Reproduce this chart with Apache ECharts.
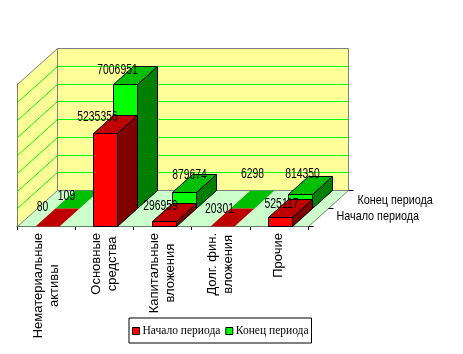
<!DOCTYPE html>
<html>
<head>
<meta charset="utf-8">
<style>html,body{margin:0;padding:0;background:#fff}</style>
<script src="https://cdn.jsdelivr.net/npm/echarts@6/dist/echarts.min.js"></script>
</head>
<body>
<div id="main" style="width:463px;height:354px"></div>
<script>
var categories = ['Нематериальные\nактивы', 'Основные\nсредства', 'Капитальные\nвложения', 'Долг. фин.\nвложения', 'Прочие']
var seriesNames = ['Начало периода', 'Конец периода']
var startValues = [80, 5235356, 296959, 20301, 525117]
var endValues = [109, 7006951, 879674, 6298, 814350]
var valueTicks = [0, 1000000, 2000000, 3000000, 4000000, 5000000, 6000000, 7000000, 8000000]

// 3d look: every row of bars is shifted by this much
var ROW_DX = 20
var ROW_DY = -18
var ROWS = 2
var SANS = '"Liberation Sans", Arial, sans-serif'

// label nudges relative to the bar's front left corner, per row
var nudge = [
  [[7, -1], [4, 2], [8, 3], [9, 1], [13, 5]],
  [[11, 6], [4, 4], [17, 1], [22, -16], [14, -2]]
]

function snap (v) {
  return Math.round(v) + 0.5
}

function poly (points, fill, stroke, z2) {
  return {
    type: 'polygon',
    z2: z2 || 1,
    shape: { points: points },
    style: { fill: fill, stroke: stroke || 'none', lineWidth: 1 }
  }
}

function line (a, b, color) {
  return {
    type: 'line',
    z2: 2,
    shape: { x1: a[0], y1: a[1], x2: b[0], y2: b[1] },
    style: { stroke: color, lineWidth: 1 }
  }
}

// the reference text is tall and narrow, so squeeze it sideways
function squeezedText (text, x, y, size, squeeze, align) {
  return {
    type: 'text',
    z2: 50,
    x: x,
    y: y,
    scaleX: squeeze,
    style: {
      text: text,
      x: 0,
      y: 0,
      fill: '#000',
      font: size + 'px ' + SANS,
      align: align,
      verticalAlign: 'middle'
    }
  }
}

function renderWalls (params, api) {
  var g = params.coordSys
  var dx = ROW_DX * ROWS
  var dy = ROW_DY * ROWS
  var left = snap(g.x)
  var right = snap(g.x + g.width)
  var bottom = snap(g.y + g.height)
  var top = snap(api.coord([0, valueTicks[valueTicks.length - 1]])[1])
  var grey = '#808080'
  var kids = [
    poly([[left, bottom], [left + dx, bottom + dy], [left + dx, top + dy], [left, top]], '#FFFF99'),
    poly([[left + dx, bottom + dy], [right + dx, bottom + dy], [right + dx, top + dy], [left + dx, top + dy]], '#FFFF99'),
    poly([[left, bottom], [right, bottom], [right + dx, bottom + dy], [left + dx, bottom + dy]], '#CCFFCC')
  ]
  valueTicks.slice(1, -1).forEach(function (t) {
    var y = snap(api.coord([0, t])[1])
    kids.push(line([left, y], [left + dx, y + dy], '#00FF00'))
    kids.push(line([left + dx, y + dy], [right + dx, y + dy], '#00FF00'))
  })
  kids.push(line([left, top], [left + dx, top + dy], grey))
  kids.push(line([left + dx, top + dy], [right + dx, top + dy], grey))
  kids.push(line([right + dx, top + dy], [right + dx, bottom + dy], grey))
  kids.push(line([left + dx, top + dy], [left + dx, bottom + dy], grey))
  kids.push(line([left + dx, bottom + dy], [right + dx, bottom + dy], grey))
  kids.push(line([left, bottom], [left + dx, bottom + dy], grey))
  kids.push(line([right, bottom], [right + dx, bottom + dy], grey))
  // depth axis ticks and names
  for (var r = 0; r <= ROWS; r++) {
    var px = right + r * ROW_DX
    var py = bottom + r * ROW_DY
    kids.push(line([px, py], [px + 5, py], '#000'))
    if (r < ROWS) {
      kids.push(squeezedText(seriesNames[r], px + 28 + r, py - 10 + r * 2, 13, 0.83, 'left'))
    }
  }
  return { type: 'group', children: kids }
}

function barRenderer (row, colors) {
  return function (params, api) {
    var i = api.value(0)
    var v = api.value(1)
    var base = api.coord([i, 0])
    var tip = api.coord([i, v])
    var ox = row * ROW_DX
    var oy = row * ROW_DY
    var x0 = snap(base[0] - 11 + ox)
    var x1 = x0 + 24
    var y0 = snap(base[1] + oy)
    var y1 = snap(tip[1] + oy)
    var flat = y0 - y1 < 1
    var edge = flat ? null : '#000'
    var kids = []
    if (!flat) {
      kids.push(poly([[x0, y0], [x1, y0], [x1, y1], [x0, y1]], colors[0], edge))
      kids.push(poly([[x1, y0], [x1 + ROW_DX, y0 + ROW_DY], [x1 + ROW_DX, y1 + ROW_DY], [x1, y1]], colors[2], edge))
    }
    kids.push(poly([[x0, y1], [x1, y1], [x1 + ROW_DX, y1 + ROW_DY], [x0 + ROW_DX, y1 + ROW_DY]], colors[1], edge))
    var n = nudge[row][i]
    kids.push(squeezedText(String(v), x0 + n[0], y1 + ROW_DY + n[1], 14, 0.74, 'center'))
    return { type: 'group', children: kids }
  }
}

function rows (values) {
  return values.map(function (v, i) { return [i, v] })
}

var chart = echarts.init(document.getElementById('main'), null, { renderer: 'canvas' })
chart.setOption({
  animation: false,
  backgroundColor: '#fff',
  grid: { left: 17, top: 84, width: 291, height: 142 },
  xAxis: {
    type: 'category',
    data: categories,
    axisLine: { show: true, lineStyle: { color: '#000' } },
    axisTick: { show: true, length: 4, lineStyle: { color: '#000' } },
    axisLabel: {
      interval: 0,
      rotate: 90,
      margin: 7,
      color: '#000',
      formatter: function (v) {
        return v.split('\n').map(function (s) { return '{c|' + s + '}' }).join('\n')
      },
      rich: {
        c: { align: 'center', fontFamily: SANS, fontSize: 13, lineHeight: 16, color: '#000' }
      }
    }
  },
  yAxis: {
    type: 'value',
    min: 0,
    max: 8000000,
    interval: 1000000,
    axisLine: { show: true, lineStyle: { color: '#000' } },
    axisTick: { show: false },
    axisLabel: { show: false },
    splitLine: { show: false }
  },
  legend: {
    data: seriesNames,
    left: 129,
    top: 318,
    orient: 'horizontal',
    padding: [7, 3, 6, 3],
    itemGap: 5,
    itemWidth: 7,
    itemHeight: 7,
    icon: 'rect',
    borderColor: '#000',
    borderWidth: 1,
    selectedMode: false,
    itemStyle: { borderColor: '#000', borderWidth: 1 },
    textStyle: { fontFamily: '"Liberation Serif", serif', fontSize: 11.5, color: '#000', padding: [0, 0, 0, -2] }
  },
  series: [
    {
      type: 'custom',
      name: 'walls',
      silent: true,
      z: 1,
      data: [[0, 0]],
      renderItem: renderWalls,
      clip: false
    },
    {
      type: 'custom',
      name: seriesNames[1],
      z: 2,
      itemStyle: { color: '#00FF00' },
      data: rows(endValues),
      renderItem: barRenderer(1, ['#00FF00', '#00BF00', '#007F00']),
      clip: false
    },
    {
      type: 'custom',
      name: seriesNames[0],
      z: 3,
      itemStyle: { color: '#FF0000' },
      data: rows(startValues),
      renderItem: barRenderer(0, ['#FF0000', '#BF0000', '#7F0000']),
      clip: false
    }
  ]
})
</script>
</body>
</html>
